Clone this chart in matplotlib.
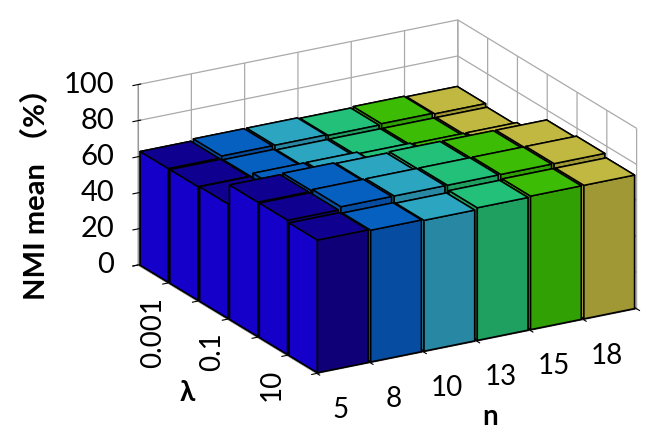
import matplotlib
matplotlib.use("Agg")
import matplotlib.pyplot as plt
from matplotlib.ticker import NullFormatter
import numpy as np

plt.rcParams['font.family'] = ['Lato', 'Noto Sans CJK SC', 'DejaVu Sans']

n_labels = ["5", "8", "10", "13", "15", "18"]
lam_labels = ["0.001", "", "0.1", "", "10", ""]
z_ticks = [0, 20, 40, 60, 80, 100]

# NMI mean, rows are lambda (back to front), columns are n
row1 = [63, 64, 64, 63.5, 64, 63.5]
row2 = [63, 62.5, 62, 62, 62, 62]
row3 = [63.5, 65, 65, 64, 63.5, 63.5]
row4 = [74.5, 75, 74.5, 75, 75, 75]
row5 = [74.5, 76, 76, 76, 76, 76]
row6 = [73.5, 73, 72.5, 73.5, 74, 74]
nmi = [row1, row2, row3, row4, row5, row6]

top_colors = ["#100090", "#0560c0", "#2ca5c0", "#22c078", "#3cbc04", "#c0b840"]
front_colors = ["#100078", "#064ca0", "#2888a4", "#20a060", "#30a004", "#a09834"]
side_colors = ["#1400c8", "#064ca0", "#2888a4", "#20a060", "#30a004", "#a09834"]

fig = plt.figure(figsize=(6.5, 4.41), dpi=100)
S = 395
cx, cy = 382, 202
ax = fig.add_axes([(cx - S / 2) / 650, (441 - cy - S / 2) / 441, S / 650, S / 441],
                  projection="3d", computed_zorder=False)
ax.set_proj_type("ortho")
ax.view_init(elev=20.5, azim=-120)
ax.set_box_aspect((347, 336, 181), zoom=1.349)

values = np.array(nmi)
w = 0.95
z = 10
# back rows first, right column first
for r in range(6):
    for c in range(5, -1, -1):
        bar = ax.bar3d(c + 0.025, 5 - r + 0.025, 0, w, w, values[r][c], shade=False,
                       color=[front_colors[c], top_colors[c], front_colors[c], front_colors[c], side_colors[c], front_colors[c]],
                       edgecolor="black", linewidth=1.1, zorder=z)
        bar.set_clip_on(False)
        z += 1

ax.set_xlim(0, 6, view_margin=0)
ax.set_ylim(0, 6, view_margin=0)
ax.set_zlim(0, 100, view_margin=0)
ax.set_xticks(range(7))
ax.set_yticks(range(7))
ax.set_zticks(z_ticks)

# z labels as text, the native ones slide down along the pad direction
for t in z_ticks:
    ax.text(-0.34, 6.2, t, str(t), fontsize=21, ha="right", va="center")
for c, lab in enumerate(n_labels):
    ax.text(c + 0.5, 0.1, -24, lab, fontsize=20, ha="center", va="center")
for r, lab in enumerate(lam_labels):
    if lab:
        ax.text(0, 5.5 - r, -12.5, lab, zdir="z", fontsize=20, ha="center", va="top")

fig.text(490 / 650, 1 - 417 / 441, "n", fontsize=20, fontweight="bold", ha="center", va="center")
fig.text(187 / 650, 1 - 393 / 441, "λ", fontsize=20, fontweight="bold", ha="center", va="center")
fig.text(36 / 650, 1 - 187 / 441, "NMI mean （%）", fontsize=21, fontweight="bold", rotation=90, ha="center", va="center")

for a in (ax.xaxis, ax.yaxis, ax.zaxis):
    a.set_pane_color((1, 1, 1, 0))
    a.pane.set_edgecolor((1, 1, 1, 0))
    a.line.set_color("#999999")
    a._axinfo["grid"].update(color="#aaaaaa", linewidth=0.9)
    a._axinfo["tick"].update(color="#888888")
    a.set_major_formatter(NullFormatter())
    # unused empty texts
    a.label.set_visible(False)
    a.offsetText.set_visible(False)
    for tick in a.get_major_ticks():
        tick.label1.set_visible(False)
        tick.label2.set_visible(False)
ax.title.set_visible(False)
ax._left_title.set_visible(False)
ax._right_title.set_visible(False)

fig.savefig("out.png", dpi=100)
